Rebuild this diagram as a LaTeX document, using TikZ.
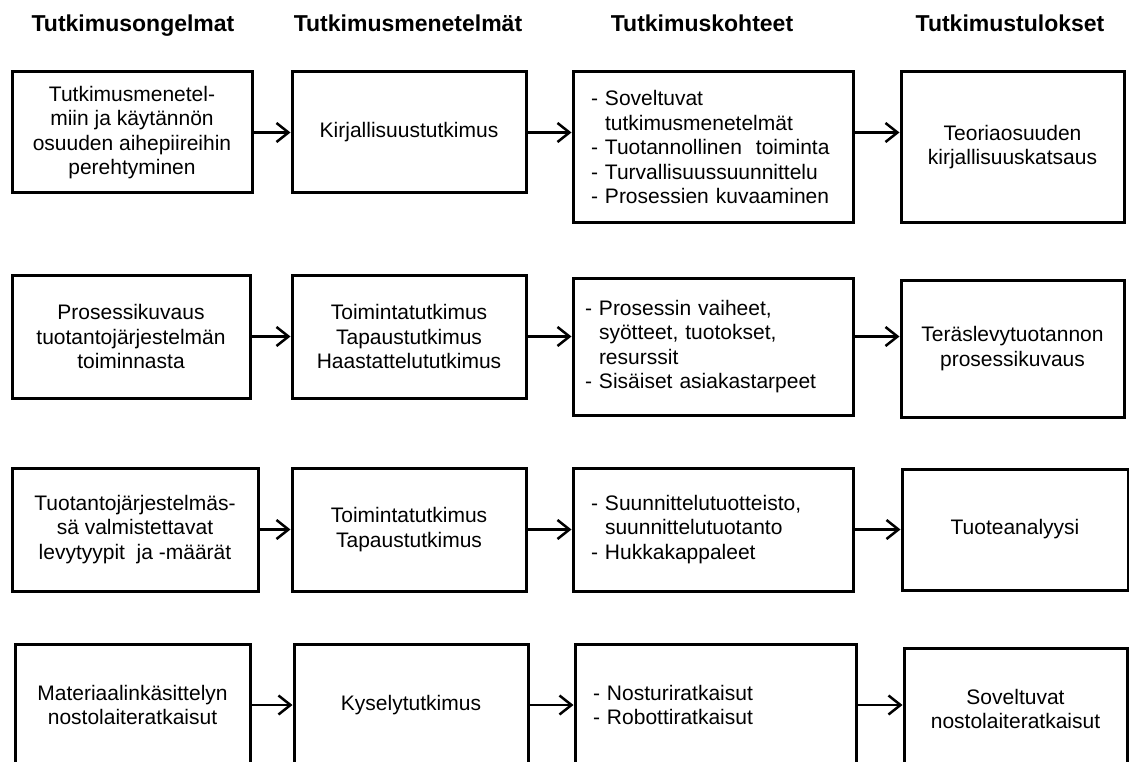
\documentclass[tikz,border=0pt]{standalone}
\usepackage{fontspec}
\setmainfont{Liberation Sans}
\usetikzlibrary{arrows.meta}

\begin{document}
\begin{tikzpicture}[x=1pt,y=-1pt,
		box/.style={draw, line width=3pt, inner sep=0pt, align=center, font=\fontsize{21}{24.5}\selectfont},
		list/.style={box, align=left, inner xsep=18pt, text width=244pt},
		heading/.style={anchor=base, font=\fontsize{23}{27}\selectfont\bfseries},
		arr/.style={line width=2.5pt, -{Straight Barb[length=12pt,width=19pt]}}]
			\clip (0,0) rectangle (1129,762);
			\node[heading] (h1) at (133,32) {Tutkimusongelmat};
			\node[heading] (h2) at (408,32) {Tutkimusmenetelmät};
			\node[heading] (h3) at (702,32) {Tutkimuskohteet};
			\node[heading] (h4) at (1010,32) {Tutkimustulokset};
			\node[box, minimum width=240, minimum height=121] (ongelma1) at (132,132.5) {Tutkimusmenetel-\\miin ja käytännön\\osuuden aihepiireihin\\perehtyminen};
			\node[box, minimum width=234, minimum height=121] (menetelma1) at (409,132.5) {Kirjallisuustutkimus};
			\node[list, minimum height=150] (kohde1) at (713,147) {- Soveltuvat\\\hphantom{- }tutkimusmenetelmät\\- Tuotannollinen\ \ toiminta\\- Turvallisuussuunnittelu\\- Prosessien kuvaaminen};
			\node[box, minimum width=223, minimum height=150] (tulos1) at (1012.5,147) {Teoriaosuuden\\kirjallisuuskatsaus};
			\node[box, minimum width=238, minimum height=123] (ongelma2) at (131,336.5) {Prosessikuvaus\\tuotantojärjestelmän\\toiminnasta};
			\node[box, minimum width=234, minimum height=123] (menetelma2) at (409,336.5) {Toimintatutkimus\\Tapaustutkimus\\Haastattelututkimus};
			\node[list, inner xsep=12pt, text width=256pt, minimum height=137] (kohde2) at (713,346.5) {- Prosessin vaiheet,\\\hphantom{- }syötteet, tuotokset,\\\hphantom{- }resurssit\\- Sisäiset asiakastarpeet};
			\node[box, minimum width=223, minimum height=137] (tulos2) at (1012.5,348.5) {Teräslevytuotannon\\prosessikuvaus};
			\node[box, minimum width=246, minimum height=123] (ongelma3) at (135,529.5) {Tuotantojärjestelmäs-\\sä valmistettavat\\levytyypit\ \ ja -määrät};
			\node[box, minimum width=234, minimum height=123] (menetelma3) at (409,529.5) {Toimintatutkimus\\Tapaustutkimus};
			\node[list, minimum height=123] (kohde3) at (713,529.5) {- Suunnittelutuotteisto,\\\hphantom{- }suunnittelutuotanto\\- Hukkakappaleet};
			\node[box, minimum width=226, minimum height=121] (tulos3) at (1015,529.5) {Tuoteanalyysi};
			\node[box, minimum width=235, minimum height=122] (ongelma4) at (132.5,705) {Materiaalinkäsittelyn\\nostolaiteratkaisut};
			\node[box, minimum width=234, minimum height=122] (menetelma4) at (411,705) {Kyselytutkimus};
			\node[list, text width=245pt, minimum height=122] (kohde4) at (715.5,705) {- Nosturiratkaisut\\- Robottiratkaisut};
			\node[box, minimum width=223, minimum height=122] (tulos4) at (1015.5,709) {Soveltuvat\\nostolaiteratkaisut};
			\draw[arr] (ongelma1) -- (menetelma1);
			\draw[arr] (menetelma1.east) -- (menetelma1.east -| kohde1.west);
			\draw[arr] (kohde1.east |- menetelma1.east) -- (tulos1.west |- menetelma1.east);
			\draw[arr] (ongelma2) -- (menetelma2);
			\draw[arr] (menetelma2.east) -- (menetelma2.east -| kohde2.west);
			\draw[arr] (kohde2.east |- menetelma2.east) -- (tulos2.west |- menetelma2.east);
			\draw[arr] (ongelma3.east |- menetelma3.west) -- (menetelma3.west);
			\draw[arr] (menetelma3.east) -- (menetelma3.east -| kohde3.west);
			\draw[arr] (kohde3.east |- menetelma3.east) -- (tulos3.west |- menetelma3.east);
			\draw[arr] (ongelma4.east |- menetelma4.west) -- (menetelma4.west);
			\draw[arr] (menetelma4.east) -- (menetelma4.east -| kohde4.west);
			\draw[arr] (kohde4.east |- menetelma4.east) -- (tulos4.west |- menetelma4.east);
		\end{tikzpicture}
\end{document}
